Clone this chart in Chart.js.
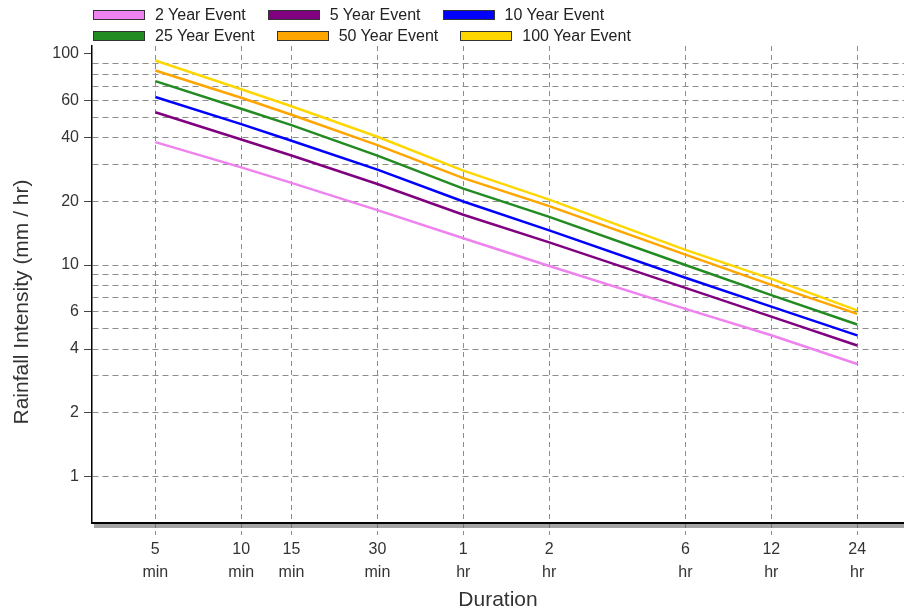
<!DOCTYPE html>
<html>
<head>
<meta charset="utf-8">
<script src="https://cdn.jsdelivr.net/npm/chart.js@4.4.1/dist/chart.umd.min.js"></script>
<style>
  html, body { margin: 0; padding: 0; background: #fff; }
  #wrap { position: relative; width: 904px; height: 615px; }
  #legend { position: absolute; left: 93px; top: 4px; font: 16px 'Liberation Sans', Arial, sans-serif; color: #222; }
  .row { display: flex; align-items: center; height: 21px; white-space: nowrap; }
  .item { display: flex; align-items: center; margin-right: 22px; }
  .box { width: 50px; height: 8px; border: 1px solid #333; margin-right: 10px; }
</style>
</head>
<body>
<div id="wrap">
  <canvas id="idf" width="904" height="615"></canvas>
  <div id="legend"></div>
</div>
<script>
// durations in minutes
const durations = [5, 10, 15, 30, 60, 120, 360, 720, 1440]
const durationLabels = [['5', 'min'], ['10', 'min'], ['15', 'min'], ['30', 'min'], ['1', 'hr'], ['2', 'hr'], ['6', 'hr'], ['12', 'hr'], ['24', 'hr']]

const events = ['2 Year Event', '5 Year Event', '10 Year Event', '25 Year Event', '50 Year Event', '100 Year Event']
const colors = ['#ee82ee', '#800080', '#0000ff', '#228b22', '#ffa500', '#ffd700']

// rainfall intensity (mm/hr)
const year2 = [38.2, 29.0, 24.5, 18.2, 13.4, 9.9, 6.2, 4.65, 3.4]
const year5 = [52.9, 39.3, 33.0, 24.2, 17.3, 12.8, 7.8, 5.7, 4.16]
const year10 = [62.5, 46.5, 38.8, 28.3, 20.0, 14.6, 8.7, 6.35, 4.64]
const year25 = [74.3, 55.0, 46.0, 33.0, 23.0, 16.9, 10.0, 7.2, 5.23]
const year50 = [83.4, 62.0, 51.5, 37.0, 25.8, 19.0, 11.2, 8.05, 5.87]
const year100 = [93.0, 68.0, 56.5, 40.5, 28.0, 20.4, 11.8, 8.6, 6.1]
const series = [year2, year5, year10, year25, year50, year100]

const yMajorTicks = [1, 2, 4, 6, 10, 20, 40, 60, 100]
const yMinorTicks = [3, 5, 7, 8, 9, 30, 50, 70, 80, 90]

const FONT = "'Liberation Sans', Arial, sans-serif"

// legend in two rows of three
const legend = document.getElementById('legend')
for (let r = 0; r < 2; r++) {
  const row = document.createElement('div')
  row.className = 'row'
  for (let i = r * 3; i < r * 3 + 3; i++) {
    const item = document.createElement('div')
    item.className = 'item'
    const box = document.createElement('span')
    box.className = 'box'
    box.style.background = colors[i]
    const txt = document.createElement('span')
    txt.textContent = events[i]
    item.appendChild(box)
    item.appendChild(txt)
    row.appendChild(item)
  }
  legend.appendChild(row)
}

const yTitle = {
  id: 'yTitle',
  afterDraw(chart) {
    const ctx = chart.ctx
    ctx.save()
    ctx.translate(22, 302)
    ctx.rotate(-Math.PI / 2)
    ctx.font = '21px ' + FONT
    ctx.fillStyle = '#333'
    ctx.textAlign = 'center'
    ctx.textBaseline = 'middle'
    ctx.fillText('Rainfall Intensity (mm / hr)', 0, 0)
    ctx.restore()
  }
}

// grey shadow under the bottom axis
const axisShadow = {
  id: 'axisShadow',
  afterDraw(chart) {
    const {ctx, chartArea} = chart
    ctx.save()
    ctx.fillStyle = 'rgba(90,90,90,0.55)'
    ctx.fillRect(chartArea.left + 2, chartArea.bottom + 1, chartArea.right - chartArea.left, 4)
    ctx.restore()
  }
}

new Chart(document.getElementById('idf'), {
  type: 'line',
  data: {
    datasets: series.map((vals, i) => ({
      label: events[i],
      data: vals.map((v, j) => ({x: durations[j], y: v})),
      borderColor: colors[i],
      backgroundColor: colors[i],
      borderWidth: 2.5,
      pointRadius: 0,
      tension: 0
    }))
  },
  plugins: [yTitle, axisShadow],
  options: {
    responsive: false,
    animation: false,
    devicePixelRatio: 1,
    layout: { padding: { top: 46, left: 0, right: 0, bottom: 0 } },
    plugins: {
      legend: { display: false },
      tooltip: { enabled: false }
    },
    scales: {
      x: {
        type: 'logarithmic',
        min: 3,
        max: 2100,
        afterBuildTicks: s => { s.ticks = durations.map(v => ({value: v})) },
        afterFit: s => { s.height = 92 },
        border: { color: '#000', width: 2, dash: [5, 4] },
        grid: { color: '#8c8c8c', tickColor: '#8c8c8c', tickLength: 14, tickBorderDash: [4, 3] },
        ticks: {
          autoSkip: false,
          maxRotation: 0,
          padding: 1,
          color: '#333',
          font: { family: FONT, size: 16, lineHeight: 1.45 },
          callback: (v, i) => durationLabels[i]
        },
        title: {
          display: true,
          text: 'Duration',
          color: '#333',
          font: { family: FONT, size: 21 },
          padding: { top: 0, bottom: 2 }
        }
      },
      y: {
        type: 'logarithmic',
        min: 0.6,
        max: 109,
        afterBuildTicks: s => {
          s.ticks = yMajorTicks.concat(yMinorTicks).sort((a, b) => a - b).map(v => ({value: v}))
        },
        afterFit: s => { s.width = 92 },
        border: { color: '#000', width: 1.5, dash: [6, 4] },
        grid: {
          color: c => c.tick && c.tick.value === 100 ? 'rgba(0,0,0,0)' : '#8c8c8c',
          tickColor: c => c.tick && yMajorTicks.includes(c.tick.value) ? '#444' : 'rgba(0,0,0,0)',
          tickLength: 8,
          tickBorderDash: []
        },
        ticks: {
          autoSkip: false,
          padding: 5,
          color: '#333',
          font: { family: FONT, size: 16 },
          callback: v => yMajorTicks.includes(v) ? String(v) : ''
        }
      }
    }
  }
})
</script>
</body>
</html>
